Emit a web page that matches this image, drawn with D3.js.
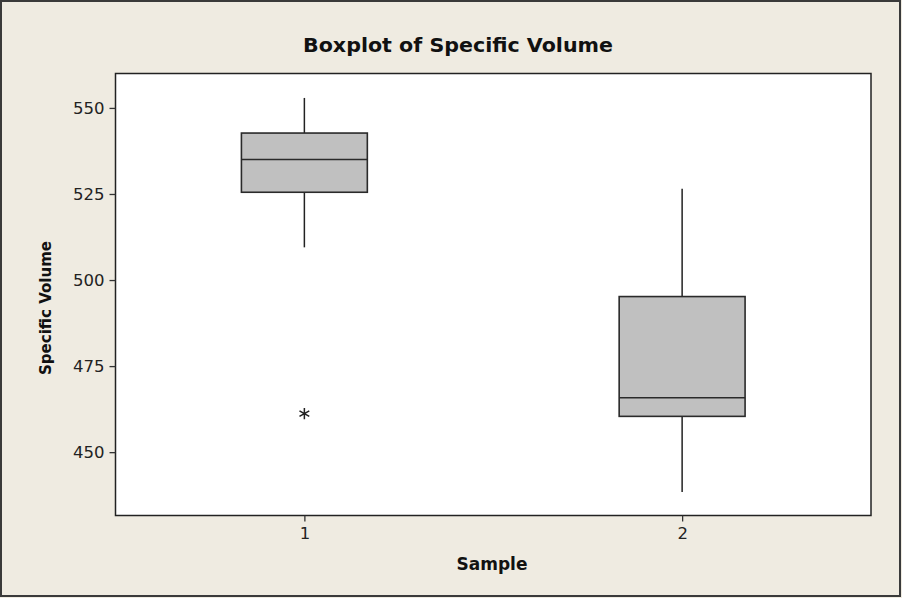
<!DOCTYPE html>
<html><head><meta charset="utf-8">
<script src="https://cdn.jsdelivr.net/npm/d3@7"></script>
<style>
html,body{margin:0;padding:0;background:#EFEBE1;}
svg{display:block;}
</style></head>
<body>
<svg id="chart" width="902" height="598"></svg>
<script>
// Data
const samples = ["1", "2"];
const whiskerLow  = [509.5, 438.4];
const q1          = [525.5, 460.4];
const median      = [535.0, 465.8];
const q3          = [542.7, 495.2];
const whiskerHigh = [552.9, 526.5];
const outlierSample = ["1"];
const outlierValue  = [461.2];
const yTicks = [450, 475, 500, 525, 550];

const title = "Boxplot of Specific Volume";
const xTitle = "Sample";
const yTitle = "Specific Volume";

const W = 902, H = 598;
const m = {left: 115.5, right: 871, top: 73.5, bottom: 515.5};
const svg = d3.select("#chart");
const font = "'DejaVu Sans', Verdana, sans-serif";

// outer frame
svg.append("rect").attr("x", 1).attr("y", 1).attr("width", W - 3).attr("height", H - 3)
  .attr("fill", "#EFEBE1").attr("stroke", "#3a3a3a").attr("stroke-width", 2);

const x = d3.scalePoint().domain(samples).range([m.left, m.right]).padding(0.5);
const y = d3.scaleLinear().domain([431.6, 560]).range([m.bottom, m.top]);
const boxW = x.step() / 3;

// plot area
svg.append("rect").attr("x", m.left).attr("y", m.top)
  .attr("width", m.right - m.left).attr("height", m.bottom - m.top)
  .attr("fill", "#ffffff").attr("stroke", "#222").attr("stroke-width", 1.5);

// axes
const yAxis = svg.append("g").attr("transform", `translate(${m.left},0)`)
  .call(d3.axisLeft(y).tickValues(yTicks).tickSize(6).tickPadding(5).tickFormat(d3.format("d")));
const xAxis = svg.append("g").attr("transform", `translate(0,${m.bottom})`)
  .call(d3.axisBottom(x).tickSize(6).tickPadding(6));
[yAxis, xAxis].forEach(a => {
  a.select(".domain").remove();
  a.selectAll("line").attr("stroke", "#333").attr("stroke-width", 1.3);
  a.selectAll("text").attr("font-family", font).attr("font-size", 16.5).attr("fill", "#222");
});

// boxes
const data = samples.map((s, i) => ({s, lo: whiskerLow[i], q1: q1[i], med: median[i], q3: q3[i], hi: whiskerHigh[i]}));
const g = svg.append("g");
const bx = g.selectAll("g.box").data(data).join("g");
bx.append("line").attr("x1", d => x(d.s)).attr("x2", d => x(d.s))
  .attr("y1", d => y(d.hi)).attr("y2", d => y(d.q3)).attr("stroke", "#222").attr("stroke-width", 1.5);
bx.append("line").attr("x1", d => x(d.s)).attr("x2", d => x(d.s))
  .attr("y1", d => y(d.q1)).attr("y2", d => y(d.lo)).attr("stroke", "#222").attr("stroke-width", 1.5);
bx.append("rect").attr("x", d => x(d.s) - boxW / 2).attr("width", boxW)
  .attr("y", d => y(d.q3)).attr("height", d => y(d.q1) - y(d.q3))
  .attr("fill", "#C0C0C0").attr("stroke", "#2a2a2a").attr("stroke-width", 1.6);
bx.append("line").attr("x1", d => x(d.s) - boxW / 2).attr("x2", d => x(d.s) + boxW / 2)
  .attr("y1", d => y(d.med)).attr("y2", d => y(d.med)).attr("stroke", "#2a2a2a").attr("stroke-width", 1.6);

// outliers
g.selectAll("path.out").data(outlierSample.map((s, i) => ({s, v: outlierValue[i]}))).join("path")
  .attr("transform", d => `translate(${x(d.s)},${y(d.v)})`)
  .attr("d", d3.symbol(d3.symbolAsterisk, 90))
  .attr("stroke", "#222").attr("stroke-width", 1.5).attr("fill", "none");

// titles
svg.append("text").attr("x", 458).attr("y", 52).attr("text-anchor", "middle")
  .attr("font-family", font).attr("font-weight", "bold").attr("font-size", 19).attr("fill", "#111")
  .attr("textLength", 310).attr("lengthAdjust", "spacingAndGlyphs").text(title);
svg.append("text").attr("x", 492).attr("y", 570).attr("text-anchor", "middle")
  .attr("font-family", font).attr("font-weight", "bold").attr("font-size", 17).attr("fill", "#111")
  .attr("textLength", 71).attr("lengthAdjust", "spacingAndGlyphs").text(xTitle);
svg.append("text").attr("transform", "translate(51,308) rotate(-90)").attr("text-anchor", "middle")
  .attr("font-family", font).attr("font-weight", "bold").attr("font-size", 16).attr("fill", "#111")
  .attr("textLength", 134).attr("lengthAdjust", "spacingAndGlyphs").text(yTitle);
</script>
</body></html>
